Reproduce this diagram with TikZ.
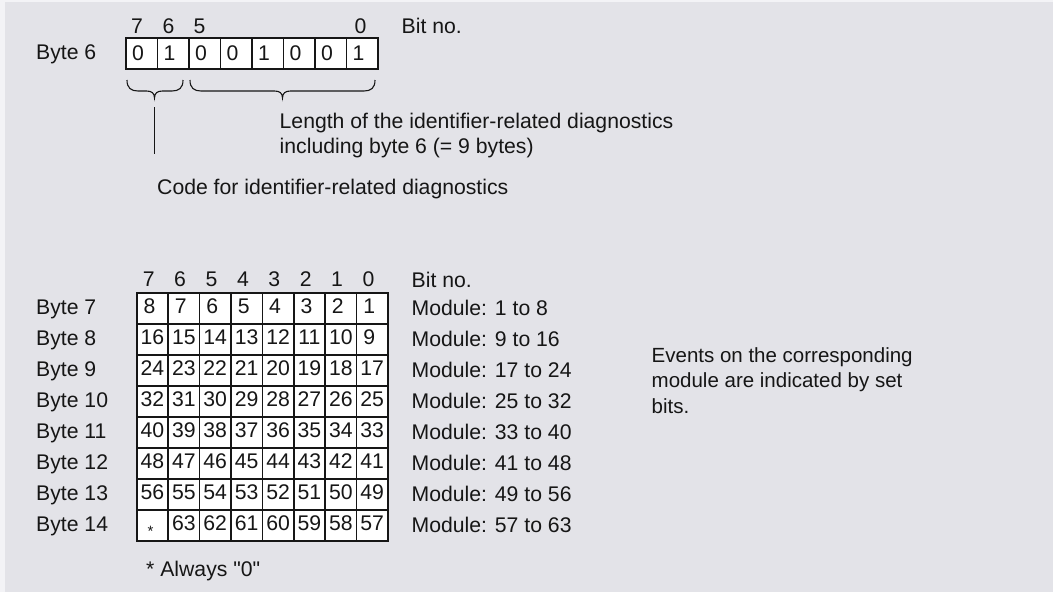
\documentclass[tikz,border=0pt]{standalone}
\usepackage{fontspec}
\setmainfont{Liberation Sans}[Ligatures=TeXOff]
\usetikzlibrary{calc}
\definecolor{bg}{RGB}{227,227,232}
\definecolor{bgedge}{RGB}{243,243,246}
\definecolor{ink}{RGB}{22,22,22}
\tikzset{
  txt/.style={inner sep=0pt, text=ink, font=\fontsize{21.2}{25}\selectfont, text height=15.2pt, text depth=0pt},
  evtxt/.style={txt, font=\fontsize{20.5}{25}\selectfont, text height=14.7pt},
  cellbox/.style={draw=ink, fill=white, line width=1.5pt, inner sep=0pt, anchor=north west},
  bracepath/.style={draw=ink, line width=1.1pt},
  leader/.style={draw=ink, line width=1.1pt},
}
\begin{document}
\begin{tikzpicture}[x=1pt,y=-1pt]
\fill[bgedge] (0,0) rectangle (1053,592);
\fill[bg] (5,2) rectangle (1053,592);
\useasboundingbox (0,0) rectangle (1053,592);

% ---------- Byte 6 ----------
\node[txt, anchor=west] (lb6) at (36,51.7) {Byte 6};
\foreach \v [count=\i from 0] in {0,1,0,0,1,0,0,1}{
  \node[cellbox, minimum width=31.5pt, minimum height=31pt] (b6c\i) at (125+31.5*\i,37) {};
  \node[txt] (b6v\i) at ($(b6c\i.center)+(-3.5,-0.8)$) {\v};
}
\node[txt] (b6h7) at (137,25.5) {7};
\node[txt] (b6h6) at (168.5,25.5) {6};
\node[txt] (b6h5) at (199.5,25.5) {5};
\node[txt] (b6h0) at (360.5,25.5) {0};
\node[txt, anchor=west] (bitno1) at (401.5,25.5) {Bit no.};

% braces
\coordinate (brAtip) at (154.5,98);
\coordinate (brBtip) at (282.5,98);
\draw[bracepath] (127,80) .. controls (127,88) and (131,91) .. (138,91)
   -- (146.5,91) .. controls (151.5,91) and (154.5,93) .. (brAtip)
   .. controls (154.5,93) and (157.5,91) .. (162.5,91)
   -- (172,91) .. controls (179,91) and (183,88) .. (183,80);
\draw[bracepath] (190,80) .. controls (190,88) and (194,91) .. (201,91)
   -- (274.5,91) .. controls (279.5,91) and (282.5,93) .. (brBtip)
   .. controls (282.5,93) and (285.5,91) .. (290.5,91)
   -- (364,91) .. controls (371,91) and (375,88) .. (375,80);

\node[txt, anchor=west] (len1) at (279.5,120.5) {Length of the identifier-related diagnostics};
\node[txt, anchor=west] (len2) at (279.5,145.5) {including byte 6 (= 9 bytes)};

\coordinate (vtop) at (154.5,107);
\coordinate (vbot) at (154.5,153.5);
\draw[leader] (vtop) -- (vbot);
\node[txt, anchor=west] (code) at (157,187) {Code for identifier-related diagnostics};

% ---------- Bytes 7..14 ----------
\foreach \c [count=\i from 0] in {7,6,5,4,3,2,1,0}{
  \node[txt] (gh\c) at (136+31.4*\i+15.7-3,279) {\c};
}
\node[txt, anchor=west] (bitno2) at (411.5,280) {Bit no.};

\foreach \r in {0,...,7}{
  \pgfmathtruncatemacro{\bytenum}{\r+7}
  \pgfmathtruncatemacro{\lo}{8*\r+1}
  \pgfmathtruncatemacro{\hi}{ifthenelse(\r==7,63,8*\r+8)}
  \node[txt, anchor=west] (byte\r) at (36,292+31*\r+15.5-1) {Byte \bytenum};
  \node[txt, anchor=west] (mod\r) at (411.5,292+31*\r+15.5) {Module: \lo\ to \hi};
  \foreach \c in {0,...,7}{
    \node[cellbox, minimum width=31.4pt, minimum height=31pt] (g\r c\c) at (136+31.4*\c,292+31*\r) {};
    \pgfmathtruncatemacro{\val}{8*(\r+1)-\c}
    \ifnum\r=7 \ifnum\c=0
      \node[inner sep=0pt, text=ink, font=\fontsize{15}{15}\selectfont] (star) at ($(g\r c\c.center)+(-2,6)$) {*};
    \else
      \ifnum\val<10
        \node[txt] (v\r c\c) at ($(g\r c\c.center)+(-3,-2)$) {\val};
      \else
        \node[txt] (v\r c\c) at ($(g\r c\c.center)+(0,-2)$) {\val};
      \fi
    \fi \else
      \ifnum\val<10
        \node[txt] (v\r c\c) at ($(g\r c\c.center)+(-3,-2)$) {\val};
      \else
        \node[txt] (v\r c\c) at ($(g\r c\c.center)+(0,-2)$) {\val};
      \fi
    \fi
  }
}

\node[evtxt, anchor=west] (ev1) at (651.5,355) {Events on the corresponding};
\node[evtxt, anchor=west] (ev2) at (651.5,380.5) {module are indicated by set};
\node[evtxt, anchor=west] (ev3) at (651.5,406) {bits.};

\node[txt, anchor=west] (always) at (146,569) {* Always "0"};
\end{tikzpicture}
\end{document}
